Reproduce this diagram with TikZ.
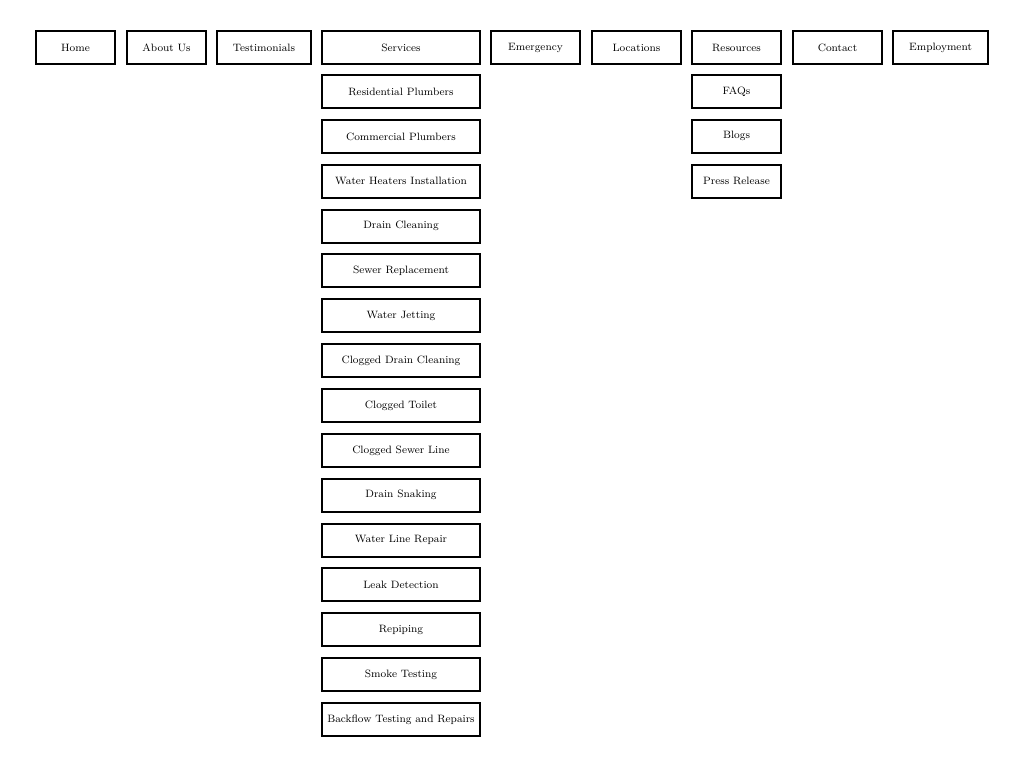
\documentclass[tikz,border=0pt]{standalone}
\usepackage{tikz}
\usetikzlibrary{positioning}
\tikzset{menu/.style={rectangle, draw, line width=1.5pt, inner sep=0pt, minimum height=33*0.75pt, font=\footnotesize, text centered}}
\begin{document}
\begin{tikzpicture}[x=0.75pt, y=-0.75pt]
		\useasboundingbox (0,0) rectangle (1024,777);
		% top row
		\foreach \name/\lab/\xa/\xb in {home/Home/36/115, about/About Us/127/206, testi/Testimonials/217/311, serv/Services/322/480, emerg/Emergency/491/580, loc/Locations/592/681, res/Resources/692/781, cont/Contact/793/882, emp/Employment/893/988}
			\node (\name) [menu, minimum width=(\xb-\xa)*0.75pt] at ({(\xa+\xb)/2},47.5) {\lab};
		% services list
		\foreach \lab [count=\i from 0] in {Residential Plumbers, Commercial Plumbers, Water Heaters Installation, Drain Cleaning, Sewer Replacement, Water Jetting, Clogged Drain Cleaning, Clogged Toilet, Clogged Sewer Line, Drain Snaking, Water Line Repair, Leak Detection, Repiping, Smoke Testing, Backflow Testing and Repairs}
			\node (serv\i) [menu, minimum width=158*0.75pt] at (401,{91.5+44.86*\i}) {\lab};
		% resources list
		\foreach \lab [count=\i from 0] in {FAQs, Blogs, Press Release}
			\node (res\i) [menu, minimum width=89*0.75pt] at (736.5,{91.5+44.86*\i}) {\lab};
	\end{tikzpicture}
\end{document}
